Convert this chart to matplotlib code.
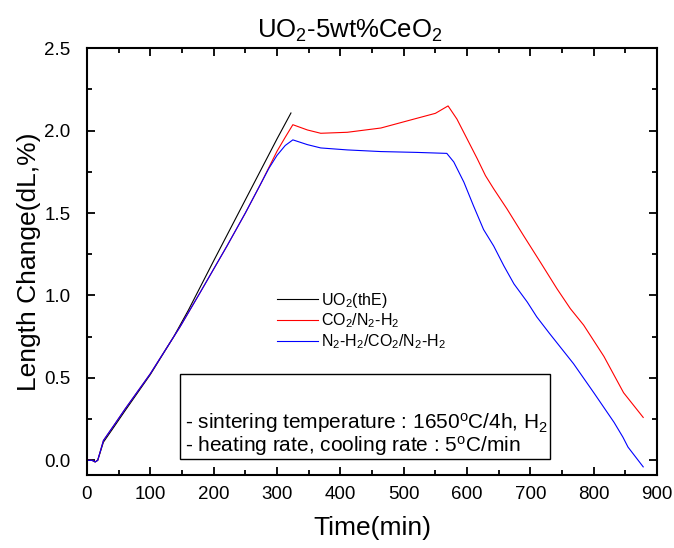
import matplotlib
matplotlib.use('Agg')
import matplotlib.pyplot as plt
from matplotlib.patches import Rectangle
from matplotlib.ticker import MultipleLocator, FormatStrFormatter

plt.rcParams['font.family'] = ['Liberation Sans', 'DejaVu Sans']
plt.rcParams['mathtext.fontset'] = 'custom'
plt.rcParams['mathtext.rm'] = 'Liberation Sans'
plt.rcParams['mathtext.it'] = 'Liberation Sans'
plt.rcParams['mathtext.default'] = 'regular'

# dados (tempo em min, variacao de comprimento em %)
black_t = [0, 8, 13, 17, 26, 44, 60, 100, 137, 160, 200, 250, 300, 322]
black_v = [0.0, 0.0, -0.01, 0.0, 0.11, 0.21, 0.30, 0.52, 0.75, 0.91, 1.21, 1.58, 1.95, 2.107]

red_t = [0, 8, 13, 17, 26, 44, 60, 100, 147, 179, 221, 250, 274, 287, 300, 313, 325,
         348, 369, 411, 464, 516, 550, 570, 584, 600, 616, 629, 642, 663, 689, 716,
         742, 763, 784, 816, 847, 878]
red_v = [0.0, 0.0, -0.01, 0.0, 0.12, 0.22, 0.31, 0.525, 0.81, 1.02, 1.30, 1.50, 1.675,
         1.775, 1.875, 1.96, 2.036, 2.004, 1.984, 1.99, 2.016, 2.07, 2.105, 2.15, 2.07,
         1.95, 1.83, 1.727, 1.647, 1.525, 1.364, 1.20, 1.04, 0.92, 0.82, 0.63, 0.41, 0.26]

blue_t = [0, 8, 13, 17, 26, 44, 60, 100, 147, 179, 221, 250, 274, 287, 300, 313, 325,
          348, 369, 411, 464, 520, 568, 579, 595, 610, 626, 642, 658, 674, 695, 710,
          730, 768, 800, 832, 846, 854, 878]
blue_v = [0.0, 0.0, -0.01, 0.0, 0.12, 0.22, 0.31, 0.525, 0.81, 1.02, 1.30, 1.50, 1.675,
          1.77, 1.85, 1.91, 1.944, 1.915, 1.895, 1.883, 1.873, 1.868, 1.862, 1.81, 1.687,
          1.545, 1.40, 1.30, 1.18, 1.07, 0.96, 0.87, 0.77, 0.586, 0.41, 0.23, 0.14, 0.08,
          -0.04]

labels = [r'UO$_2$(thE)', r'CO$_2$/N$_2$-H$_2$', r'N$_2$-H$_2$/CO$_2$/N$_2$-H$_2$']

fig = plt.figure(figsize=(6.74, 5.48), dpi=100)
ax = fig.add_axes([0.129, 0.133, 0.846, 0.779])

ax.plot(black_t, black_v, color='black', lw=0.8, label=labels[0])
ax.plot(red_t, red_v, color='red', lw=0.8, label=labels[1])
ax.plot(blue_t, blue_v, color='blue', lw=0.8, label=labels[2])

ax.set_xlim(0, 900)
ax.set_ylim(-0.09, 2.5)
ax.xaxis.set_major_locator(MultipleLocator(100))
ax.xaxis.set_minor_locator(MultipleLocator(50))
ax.yaxis.set_major_locator(MultipleLocator(0.5))
ax.yaxis.set_minor_locator(MultipleLocator(0.25))
ax.yaxis.set_major_formatter(FormatStrFormatter('%.1f'))
ax.tick_params(which='both', direction='in', top=True, right=True, width=1.3, labelsize=13.5)
ax.tick_params(which='major', length=6)
ax.tick_params(which='minor', length=3.5)
ax.tick_params(axis='x', which='major', pad=8)
ax.tick_params(axis='y', which='major', pad=12)
for s in ax.spines.values():
    s.set_linewidth(1.5)

ax.set_xlabel('Time(min)', fontsize=19, labelpad=9)
ax.set_ylabel('Length Change(dL,%)', fontsize=19, labelpad=2)
fig.text(0.519, 0.943, r'UO$_2$-5wt%CeO$_2$', fontsize=18.5, ha='center', va='center')

ax.legend(loc='upper left', bbox_to_anchor=(0.322, 0.447), frameon=False, fontsize=11.5,
          handlelength=2.6, handletextpad=0.15, labelspacing=0.12, borderaxespad=0)

ax.add_patch(Rectangle((0.164, 0.0375), 0.648, 0.199, transform=ax.transAxes,
                       fill=False, edgecolor='black', lw=1.0))
ax.text(0.172, 0.122, r'- sintering temperature : 1650$^o$C/4h, H$_2$', transform=ax.transAxes,
        fontsize=15, va='center', ha='left')
ax.text(0.172, 0.068, r'- heating rate, cooling rate : 5$^o$C/min', transform=ax.transAxes,
        fontsize=15, va='center', ha='left')

fig.savefig('out.png', dpi=100)
